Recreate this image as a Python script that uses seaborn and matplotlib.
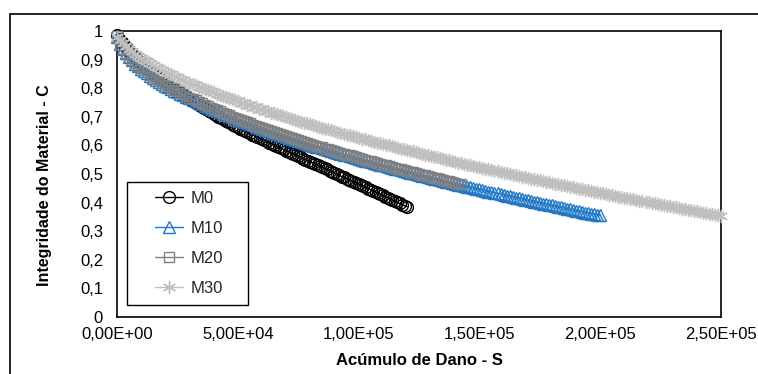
import matplotlib
matplotlib.use("Agg")
import matplotlib.pyplot as plt
import seaborn as sns
import pandas as pd
from matplotlib.lines import Line2D
from matplotlib.patches import Rectangle
from matplotlib.ticker import FixedLocator, FuncFormatter

# ---------------- data (S in thousands, C) ----------------
s_m0_k = [0, 1, 2, 3, 4, 5, 6, 7, 8, 9, 10, 11, 12, 13, 14, 15, 16, 17, 18, 19, 20,
          21, 22, 23, 24, 25, 26, 27, 28, 29, 30, 31, 32, 33, 34, 35, 36, 37, 38, 39, 40,
          41, 42, 43, 44, 45, 46, 47, 48, 49, 50, 51, 52, 53, 54, 55, 56, 57, 58, 59, 60,
          61, 62, 63, 64, 65, 66, 67, 68, 69, 70, 71, 72, 73, 74, 75, 76, 77, 78, 79, 80,
          81, 82, 83, 84, 85, 86, 87, 88, 89, 90, 91, 92, 93, 94, 95, 96, 97, 98, 99, 100,
          101, 102, 103, 104, 105, 106, 107, 108, 109, 110, 111, 112, 113, 114, 115, 116,
          117, 118, 119, 120]
c_m0 = [0.985, 0.973, 0.962, 0.951, 0.940, 0.930, 0.921, 0.912, 0.904, 0.896, 0.888,
        0.880, 0.873, 0.866, 0.859, 0.852, 0.845, 0.838, 0.832, 0.826, 0.820,
        0.814, 0.808, 0.802, 0.796, 0.790, 0.785, 0.779, 0.774, 0.768, 0.763,
        0.757, 0.752, 0.747, 0.742, 0.736, 0.731, 0.726, 0.721, 0.716, 0.711,
        0.706, 0.701, 0.696, 0.692, 0.687, 0.682, 0.677, 0.673, 0.668, 0.664,
        0.659, 0.655, 0.651, 0.647, 0.642, 0.638, 0.634, 0.630, 0.626, 0.622,
        0.618, 0.614, 0.610, 0.606, 0.602, 0.598, 0.594, 0.590, 0.586, 0.582,
        0.578, 0.574, 0.570, 0.566, 0.562, 0.558, 0.554, 0.550, 0.546, 0.543,
        0.539, 0.535, 0.531, 0.527, 0.523, 0.520, 0.516, 0.512, 0.507, 0.503,
        0.499, 0.495, 0.491, 0.488, 0.484, 0.480, 0.476, 0.473, 0.469, 0.465,
        0.461, 0.457, 0.453, 0.449, 0.445, 0.441, 0.437, 0.433, 0.429, 0.425,
        0.421, 0.417, 0.413, 0.409, 0.405, 0.401, 0.397, 0.393, 0.389, 0.386]

s_m10_k = [0, 1.25, 2.5, 3.75, 5, 6.25, 7.5, 8.75, 10, 11.25, 12.5, 13.75, 15, 16.25,
           17.5, 18.75, 20, 21.25, 22.5, 23.75, 25, 26.25, 27.5, 28.75, 30, 31.25, 32.5,
           33.75, 35, 36.25, 37.5, 38.75, 40, 41.25, 42.5, 43.75, 45, 46.25, 47.5, 48.75,
           50, 51.25, 52.5, 53.75, 55, 56.25, 57.5, 58.75, 60, 61.25, 62.5, 63.75, 65,
           66.25, 67.5, 68.75, 70, 71.25, 72.5, 73.75, 75, 76.25, 77.5, 78.75, 80, 81.25,
           82.5, 83.75, 85, 86.25, 87.5, 88.75, 90, 91.25, 92.5, 93.75, 95, 96.25, 97.5,
           98.75, 100, 101.25, 102.5, 103.75, 105, 106.25, 107.5, 108.75, 110, 111.25,
           112.5, 113.75, 115, 116.25, 117.5, 118.75, 120, 121.25, 122.5, 123.75, 125,
           126.25, 127.5, 128.75, 130, 131.25, 132.5, 133.75, 135, 136.25, 137.5, 138.75,
           140, 141.25, 142.5, 143.75, 145, 146.25, 147.5, 148.75, 150, 151.25, 152.5,
           153.75, 155, 156.25, 157.5, 158.75, 160, 161.25, 162.5, 163.75, 165, 166.25,
           167.5, 168.75, 170, 171.25, 172.5, 173.75, 175, 176.25, 177.5, 178.75, 180,
           181.25, 182.5, 183.75, 185, 186.25, 187.5, 188.75, 190, 191.25, 192.5, 193.75,
           195, 196.25, 197.5, 198.75, 200]
c_m10 = [0.980, 0.955, 0.937, 0.922, 0.908, 0.897, 0.886, 0.877, 0.868, 0.860, 0.852,
         0.844, 0.837, 0.829, 0.822, 0.815, 0.809, 0.803, 0.797, 0.791, 0.786, 0.780,
         0.775, 0.769, 0.764, 0.759, 0.754, 0.749, 0.744, 0.739, 0.734, 0.729, 0.725,
         0.720, 0.716, 0.711, 0.707, 0.702, 0.698, 0.694, 0.690, 0.686, 0.682, 0.678,
         0.674, 0.670, 0.666, 0.662, 0.659, 0.655, 0.652, 0.648, 0.644, 0.640, 0.637,
         0.633, 0.630, 0.626, 0.623, 0.619, 0.616, 0.613, 0.610, 0.606, 0.603, 0.599,
         0.596, 0.593, 0.590, 0.586, 0.583, 0.580, 0.577, 0.574, 0.571, 0.568, 0.565,
         0.562, 0.559, 0.556, 0.553, 0.550, 0.547, 0.544, 0.541, 0.538, 0.536, 0.533,
         0.530, 0.527, 0.524, 0.521, 0.519, 0.516, 0.513, 0.510, 0.508, 0.505, 0.503,
         0.500, 0.497, 0.494, 0.492, 0.489, 0.487, 0.484, 0.482, 0.479, 0.476, 0.473,
         0.471, 0.468, 0.466, 0.463, 0.461, 0.458, 0.456, 0.453, 0.451, 0.448, 0.446,
         0.443, 0.441, 0.438, 0.436, 0.434, 0.432, 0.429, 0.427, 0.424, 0.422, 0.419,
         0.417, 0.415, 0.413, 0.410, 0.408, 0.405, 0.403, 0.401, 0.399, 0.396, 0.394,
         0.392, 0.390, 0.387, 0.385, 0.383, 0.381, 0.378, 0.376, 0.374, 0.372, 0.370,
         0.368, 0.365, 0.363, 0.361, 0.359, 0.357, 0.355]

s_m20_k = [0, 1.25, 2.5, 3.75, 5, 6.25, 7.5, 8.75, 10, 11.25, 12.5, 13.75, 15, 16.25,
           17.5, 18.75, 20, 21.25, 22.5, 23.75, 25, 26.25, 27.5, 28.75, 30, 31.25, 32.5,
           33.75, 35, 36.25, 37.5, 38.75, 40, 41.25, 42.5, 43.75, 45, 46.25, 47.5, 48.75,
           50, 51.25, 52.5, 53.75, 55, 56.25, 57.5, 58.75, 60, 61.25, 62.5, 63.75, 65,
           66.25, 67.5, 68.75, 70, 71.25, 72.5, 73.75, 75, 76.25, 77.5, 78.75, 80, 81.25,
           82.5, 83.75, 85, 86.25, 87.5, 88.75, 90, 91.25, 92.5, 93.75, 95, 96.25, 97.5,
           98.75, 100, 101.25, 102.5, 103.75, 105, 106.25, 107.5, 108.75, 110, 111.25,
           112.5, 113.75, 115, 116.25, 117.5, 118.75, 120, 121.25, 122.5, 123.75, 125,
           126.25, 127.5, 128.75, 130, 131.25, 132.5, 133.75, 135, 136.25, 137.5, 138.75,
           140, 141.25, 142.5]
c_m20 = [0.981, 0.956, 0.938, 0.923, 0.909, 0.898, 0.887, 0.878, 0.871, 0.863, 0.855,
         0.847, 0.840, 0.832, 0.825, 0.818, 0.812, 0.806, 0.800, 0.794, 0.789, 0.783,
         0.778, 0.772, 0.767, 0.762, 0.757, 0.752, 0.747, 0.742, 0.737, 0.732, 0.728,
         0.723, 0.719, 0.714, 0.710, 0.705, 0.701, 0.697, 0.693, 0.689, 0.685, 0.681,
         0.677, 0.673, 0.669, 0.665, 0.662, 0.658, 0.655, 0.651, 0.647, 0.643, 0.640,
         0.636, 0.633, 0.629, 0.626, 0.622, 0.619, 0.616, 0.613, 0.609, 0.606, 0.602,
         0.599, 0.596, 0.593, 0.589, 0.586, 0.583, 0.580, 0.577, 0.574, 0.571, 0.568,
         0.565, 0.562, 0.559, 0.556, 0.553, 0.550, 0.547, 0.544, 0.541, 0.539, 0.536,
         0.533, 0.530, 0.527, 0.524, 0.522, 0.519, 0.516, 0.513, 0.511, 0.508, 0.506,
         0.503, 0.500, 0.497, 0.495, 0.492, 0.490, 0.487, 0.485, 0.482, 0.479, 0.476,
         0.474, 0.471, 0.469, 0.466, 0.464]

s_m30_k = [0, 1.25, 2.5, 3.75, 5, 6.25, 7.5, 8.75, 10, 11.25, 12.5, 13.75, 15, 16.25,
           17.5, 18.75, 20, 21.25, 22.5, 23.75, 25, 26.25, 27.5, 28.75, 30, 31.25, 32.5,
           33.75, 35, 36.25, 37.5, 38.75, 40, 41.25, 42.5, 43.75, 45, 46.25, 47.5, 48.75,
           50, 51.25, 52.5, 53.75, 55, 56.25, 57.5, 58.75, 60, 61.25, 62.5, 63.75, 65,
           66.25, 67.5, 68.75, 70, 71.25, 72.5, 73.75, 75, 76.25, 77.5, 78.75, 80, 81.25,
           82.5, 83.75, 85, 86.25, 87.5, 88.75, 90, 91.25, 92.5, 93.75, 95, 96.25, 97.5,
           98.75, 100, 101.25, 102.5, 103.75, 105, 106.25, 107.5, 108.75, 110, 111.25,
           112.5, 113.75, 115, 116.25, 117.5, 118.75, 120, 121.25, 122.5, 123.75, 125,
           126.25, 127.5, 128.75, 130, 131.25, 132.5, 133.75, 135, 136.25, 137.5, 138.75,
           140, 141.25, 142.5, 143.75, 145, 146.25, 147.5, 148.75, 150, 151.25, 152.5,
           153.75, 155, 156.25, 157.5, 158.75, 160, 161.25, 162.5, 163.75, 165, 166.25,
           167.5, 168.75, 170, 171.25, 172.5, 173.75, 175, 176.25, 177.5, 178.75, 180,
           181.25, 182.5, 183.75, 185, 186.25, 187.5, 188.75, 190, 191.25, 192.5, 193.75,
           195, 196.25, 197.5, 198.75, 200, 201.25, 202.5, 203.75, 205, 206.25, 207.5,
           208.75, 210, 211.25, 212.5, 213.75, 215, 216.25, 217.5, 218.75, 220, 221.25,
           222.5, 223.75, 225, 226.25, 227.5, 228.75, 230, 231.25, 232.5, 233.75, 235,
           236.25, 237.5, 238.75, 240, 241.25, 242.5, 243.75, 245, 246.25, 247.5, 248.75,
           250]
c_m30 = [0.980, 0.970, 0.959, 0.948, 0.938, 0.929, 0.921, 0.914, 0.907, 0.900, 0.894,
         0.887, 0.881, 0.875, 0.869, 0.863, 0.858, 0.853, 0.848, 0.843, 0.838, 0.833,
         0.828, 0.823, 0.819, 0.814, 0.810, 0.805, 0.801, 0.797, 0.793, 0.789, 0.785,
         0.781, 0.777, 0.773, 0.769, 0.765, 0.761, 0.757, 0.754, 0.750, 0.747, 0.743,
         0.740, 0.736, 0.733, 0.729, 0.726, 0.722, 0.719, 0.715, 0.712, 0.709, 0.706,
         0.702, 0.699, 0.696, 0.693, 0.689, 0.686, 0.683, 0.680, 0.677, 0.674, 0.671,
         0.668, 0.665, 0.662, 0.659, 0.656, 0.653, 0.650, 0.647, 0.644, 0.641, 0.638,
         0.635, 0.633, 0.630, 0.627, 0.624, 0.621, 0.618, 0.616, 0.613, 0.610, 0.607,
         0.605, 0.602, 0.600, 0.597, 0.594, 0.591, 0.589, 0.586, 0.584, 0.581, 0.579,
         0.576, 0.573, 0.570, 0.568, 0.565, 0.563, 0.560, 0.558, 0.555, 0.553, 0.550,
         0.548, 0.545, 0.543, 0.540, 0.538, 0.535, 0.533, 0.531, 0.529, 0.526, 0.524,
         0.521, 0.519, 0.516, 0.514, 0.512, 0.510, 0.507, 0.505, 0.502, 0.500, 0.498,
         0.496, 0.493, 0.491, 0.489, 0.487, 0.484, 0.482, 0.480, 0.478, 0.475, 0.473,
         0.471, 0.469, 0.466, 0.464, 0.462, 0.460, 0.457, 0.455, 0.453, 0.451, 0.449,
         0.447, 0.445, 0.443, 0.440, 0.438, 0.436, 0.434, 0.432, 0.430, 0.428, 0.426,
         0.423, 0.421, 0.419, 0.417, 0.415, 0.413, 0.411, 0.409, 0.407, 0.405, 0.403,
         0.401, 0.399, 0.397, 0.395, 0.393, 0.391, 0.389, 0.387, 0.385, 0.383, 0.381,
         0.379, 0.377, 0.375, 0.373, 0.371, 0.369, 0.367, 0.365, 0.363, 0.361, 0.359,
         0.357, 0.355, 0.353]

series_names = ["M0", "M10", "M20", "M30"]
x_ticks = [0, 50000, 100000, 150000, 200000, 250000]
y_ticks = [0, 0.1, 0.2, 0.3, 0.4, 0.5, 0.6, 0.7, 0.8, 0.9, 1.0]

# ---------------- style ----------------
sns.set_theme(style="white")
plt.rcParams["font.family"] = ["Liberation Sans", "DejaVu Sans"]

W, H = 758, 374
fig = plt.figure(figsize=(W / 100, H / 100), dpi=100)
ax_l, ax_r, ax_t, ax_b = 117, 721, 31, 317
ax = fig.add_axes([ax_l / W, 1 - ax_b / H, (ax_r - ax_l) / W, (ax_b - ax_t) / H])

styles = {
    "M0": dict(color="#000000", marker="o", ms=8.5),
    "M10": dict(color="#2276C6", marker="^", ms=8.0),
    "M20": dict(color="#808080", marker="s", ms=7.0),
    "M30": dict(color="#BFBFBF", marker=(6, 2, 0), ms=9.5),
}
data = {
    "M0": (s_m0_k, c_m0),
    "M10": (s_m10_k, c_m10),
    "M20": (s_m20_k, c_m20),
    "M30": (s_m30_k, c_m30),
}

for name in series_names:
    s_k, c = data[name]
    df = pd.DataFrame({"S": [v * 1000 for v in s_k], "C": c})
    st = styles[name]
    sns.lineplot(data=df, x="S", y="C", ax=ax, estimator=None, sort=False,
                 color=st["color"], marker=st["marker"], markersize=st["ms"],
                 markerfacecolor="none", markeredgecolor=st["color"],
                 markeredgewidth=1.0, linewidth=1.0, label=name, legend=False,
                 clip_on=False)

ax.set_xlim(0, 250000)
ax.set_ylim(0, 1)
ax.xaxis.set_major_locator(FixedLocator(x_ticks))
ax.yaxis.set_major_locator(FixedLocator(y_ticks))
ax.xaxis.set_major_formatter(FuncFormatter(lambda v, p: f"{v:.2E}".replace(".", ",")))
ax.yaxis.set_major_formatter(FuncFormatter(
    lambda v, p: ("%g" % round(v, 1)).replace(".", ",")))
ax.tick_params(axis="both", length=0, labelsize=12, colors="black")
ax.tick_params(axis="x", pad=7)
ax.tick_params(axis="y", pad=10)
for sp in ax.spines.values():
    sp.set_visible(True)
    sp.set_color("black")
    sp.set_linewidth(1.2)
    sp.set_zorder(1)

ax.set_xlabel("Acúmulo de Dano - S", fontsize=12, fontweight="bold",
              color="black", labelpad=8)
ax.set_ylabel("Integridade do Material - C", fontsize=11.5, fontweight="bold",
              color="black")
ax.yaxis.set_label_coords(-0.108, 0.462)

# legend: manual frame + frameless legend
handles = []
for name in series_names:
    st = styles[name]
    handles.append(Line2D([], [], color=st["color"], marker=st["marker"],
                          markersize=st["ms"], markerfacecolor="none",
                          markeredgecolor=st["color"], markeredgewidth=1.0,
                          linewidth=1.0, label=name))
pw, ph = ax_r - ax_l, ax_b - ax_t
ax.add_patch(Rectangle(((127 - ax_l) / pw, (ax_b - 305) / ph),
                       (248 - 127) / pw, (305 - 182) / ph,
                       transform=ax.transAxes, facecolor="white",
                       edgecolor="black", linewidth=1.0, zorder=5))
leg = ax.legend(handles=handles, loc="upper left",
                bbox_to_anchor=((155 - ax_l) / pw, (ax_b - 191) / ph),
                frameon=False, borderpad=0, borderaxespad=0, fontsize=12,
                handlelength=1.7, handletextpad=0.42, labelspacing=0.9)
leg.set_zorder(6)

# outer figure border (left and top)
bx, by = 10 / W, 1 - 14 / H
fig.add_artist(Line2D([bx, bx], [0, by], color="black", linewidth=1.2,
                      transform=fig.transFigure))
fig.add_artist(Line2D([bx, 1], [by, by], color="black", linewidth=1.2,
                      transform=fig.transFigure))

fig.savefig("out.png", dpi=100)
